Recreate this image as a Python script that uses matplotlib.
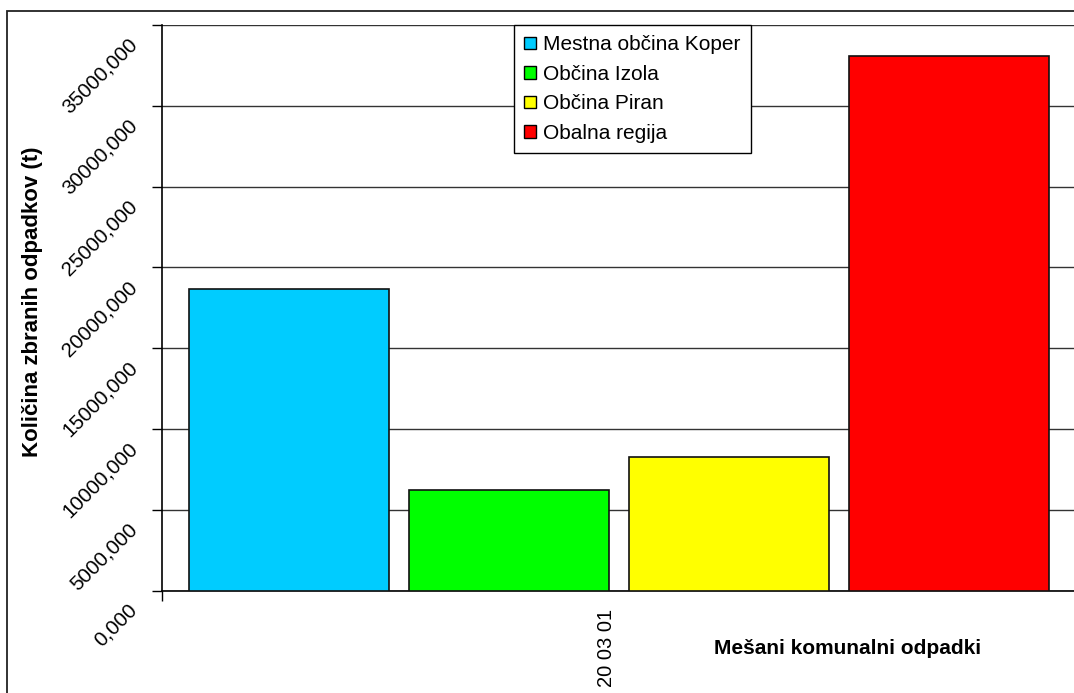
import matplotlib
matplotlib.use("Agg")
import matplotlib.pyplot as plt
import matplotlib.transforms as mtransforms
from matplotlib.patches import Rectangle, Patch

plt.rcParams["font.family"] = ["Liberation Sans", "DejaVu Sans"]

# Data
category = "20 03 01"
series_names = ["Mestna občina Koper", "Občina Izola", "Občina Piran", "Obalna regija"]
series_values = [18630, 6200, 8280, 33110]
series_colors = ["#00CCFF", "#00FF00", "#FFFF00", "#FF0000"]
y_ticks = [0, 5000, 10000, 15000, 20000, 25000, 30000, 35000]

W, H = 1074, 693
fig = plt.figure(figsize=(W / 100, H / 100), dpi=100)

# Axes placed in pixel terms
ax_left, ax_right, ax_top, ax_bottom = 162, 1076, 25, 590.5
ax = fig.add_axes([ax_left / W, 1 - ax_bottom / H,
                   (ax_right - ax_left) / W, (ax_bottom - ax_top) / H])

# Outer chart frame
fig.add_artist(Rectangle((7 / W, -0.1), 1.0, (1 - 11 / H) + 0.1,
                         transform=fig.transFigure, fill=False,
                         edgecolor="#222222", linewidth=1.3, zorder=0))

# Clustered bars inside one category
bar_w = 0.2188
step = bar_w * 1.1
n = len(series_values)
for i, (name, val, col) in enumerate(zip(series_names, series_values, series_colors)):
    x = (i - (n - 1) / 2) * step
    ax.bar(x, val, width=bar_w, color=col, edgecolor="#111111",
           linewidth=1.2, label=name, zorder=3)

ax.set_xlim(-0.5, 0.5)
ax.set_ylim(0, 35000)

# Y axis
ax.set_yticks(y_ticks)
ax.set_yticklabels([f"{v:.3f}".replace(".", ",") for v in y_ticks],
                   rotation=45, ha="right", va="top", fontsize=14.8)
ax.tick_params(axis="y", direction="out", length=7, width=1, pad=8, color="black")
offset = mtransforms.ScaledTranslation(0, -0.1, fig.dpi_scale_trans)
for lab in ax.get_yticklabels():
    lab.set_transform(lab.get_transform() + offset)
ax.yaxis.grid(True, color="#333333", linewidth=1, zorder=0)
ax.set_axisbelow(True)

# X axis: boundary ticks plus centred category label
ax.set_xticks([-0.5, 0.5])
ax.set_xticklabels(["", ""])
ax.tick_params(axis="x", which="major", direction="out", length=7, width=1)
ax.set_xticks([0], minor=True)
ax.set_xticklabels([category], minor=True, rotation=90, fontsize=14.5, va="top")
ax.tick_params(axis="x", which="minor", length=0, pad=13)
xoff = mtransforms.ScaledTranslation(-0.13, 0, fig.dpi_scale_trans)
for lab in ax.get_xticklabels(minor=True):
    lab.set_transform(lab.get_transform() + xoff)

for side in ["top", "right"]:
    ax.spines[side].set_visible(False)
for side in ["left", "bottom"]:
    ax.spines[side].set_color("black")
    ax.spines[side].set_linewidth(1.2)

ax.set_ylabel("Količina zbranih odpadkov (t)", fontsize=16, fontweight="bold")
ax.yaxis.set_label_coords((43 - ax_left) / (ax_right - ax_left), 0.51)
ax.set_xlabel("Mešani komunalni odpadki", fontsize=15, fontweight="bold")
ax.xaxis.set_label_coords(0.75, -0.085)

handles = [Patch(facecolor=c, edgecolor="black", linewidth=1) for c in series_colors]
leg = ax.legend(handles, series_names, loc="upper left",
                bbox_to_anchor=((514 - ax_left) / (ax_right - ax_left), 1.0),
                borderaxespad=0, fontsize=15, frameon=True, fancybox=False,
                edgecolor="black", framealpha=1, handlelength=0.55,
                handleheight=0.55, handletextpad=0.35, labelspacing=0.5,
                borderpad=0.5)
leg.get_frame().set_linewidth(1)
leg.set_zorder(5)

fig.savefig("out.png", dpi=100)
